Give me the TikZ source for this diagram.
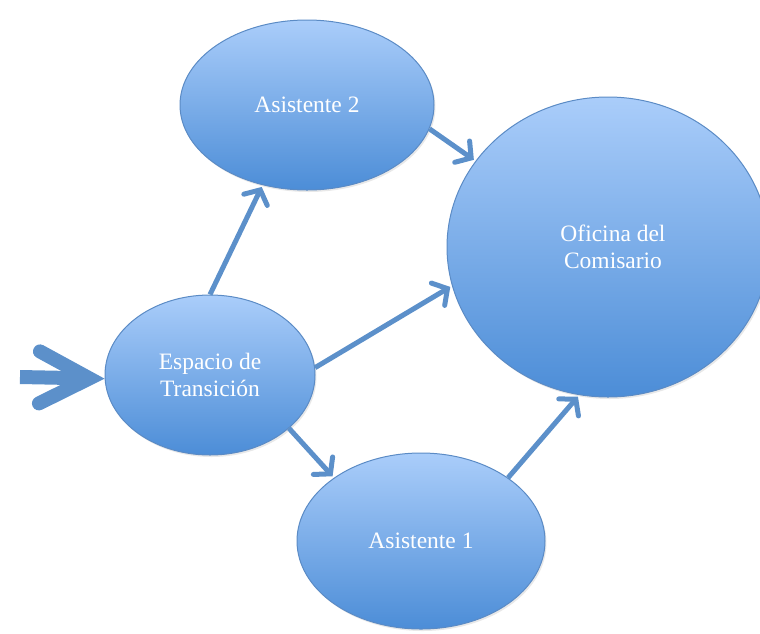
\documentclass[tikz,border=0pt]{standalone}
\usepackage{fontspec}
\setmainfont{Liberation Serif}
\usetikzlibrary{shapes.geometric,arrows.meta,shadows}
\definecolor{topc}{HTML}{AACDFA}
\definecolor{botc}{HTML}{4C8DD7}
\definecolor{edgec}{HTML}{5B8BC5}
\definecolor{arrc}{HTML}{5C90CA}
\tikzset{
  bubble/.style={ellipse, draw=edgec, line width=1pt, top color=topc, bottom color=botc,
    inner sep=0pt, text=white, align=center, font=\fontsize{23.5}{27.5}\selectfont,
    drop shadow={opacity=0.18, shadow xshift=1.5pt, shadow yshift=-2pt}},
  link/.style={draw=arrc, line width=5pt, -{Straight Barb[length=11pt,width=26pt,line cap=round]}, shorten >=2pt},
  inarrow/.style={draw=arrc, line width=14pt, -{Straight Barb[length=50pt,width=52pt,line cap=round]}}
}
\begin{document}
\begin{tikzpicture}[x=1pt,y=-1pt]
\useasboundingbox (0,0) rectangle (760,633);
\clip (0,0) rectangle (760,633);
\node[bubble, minimum width=322pt, minimum height=300pt] (of) at (608,247) {\hspace*{10pt}Oficina del\\\hspace*{10pt}Comisario};
\node[bubble, minimum width=254pt, minimum height=170pt] (a2) at (307,105) {Asistente 2};
\node[bubble, minimum width=210pt, minimum height=160pt] (esp) at (210,375) {Espacio de\\Transición};
\node[bubble, minimum width=248pt, minimum height=176pt] (a1) at (421,541) {Asistente 1};
\coordinate (in) at (20,377);
\draw[inarrow] (in) -- (esp.182);
\draw[link] (esp.90) -- (a2.241);
\draw[link] (a2.-11) -- (of.147);
\draw[link] (esp.4) -- (of.194);
\draw[link] (esp.-34) -- (a1.144);
\draw[link] (a1.36) -- (of.259);
\end{tikzpicture}
\end{document}
